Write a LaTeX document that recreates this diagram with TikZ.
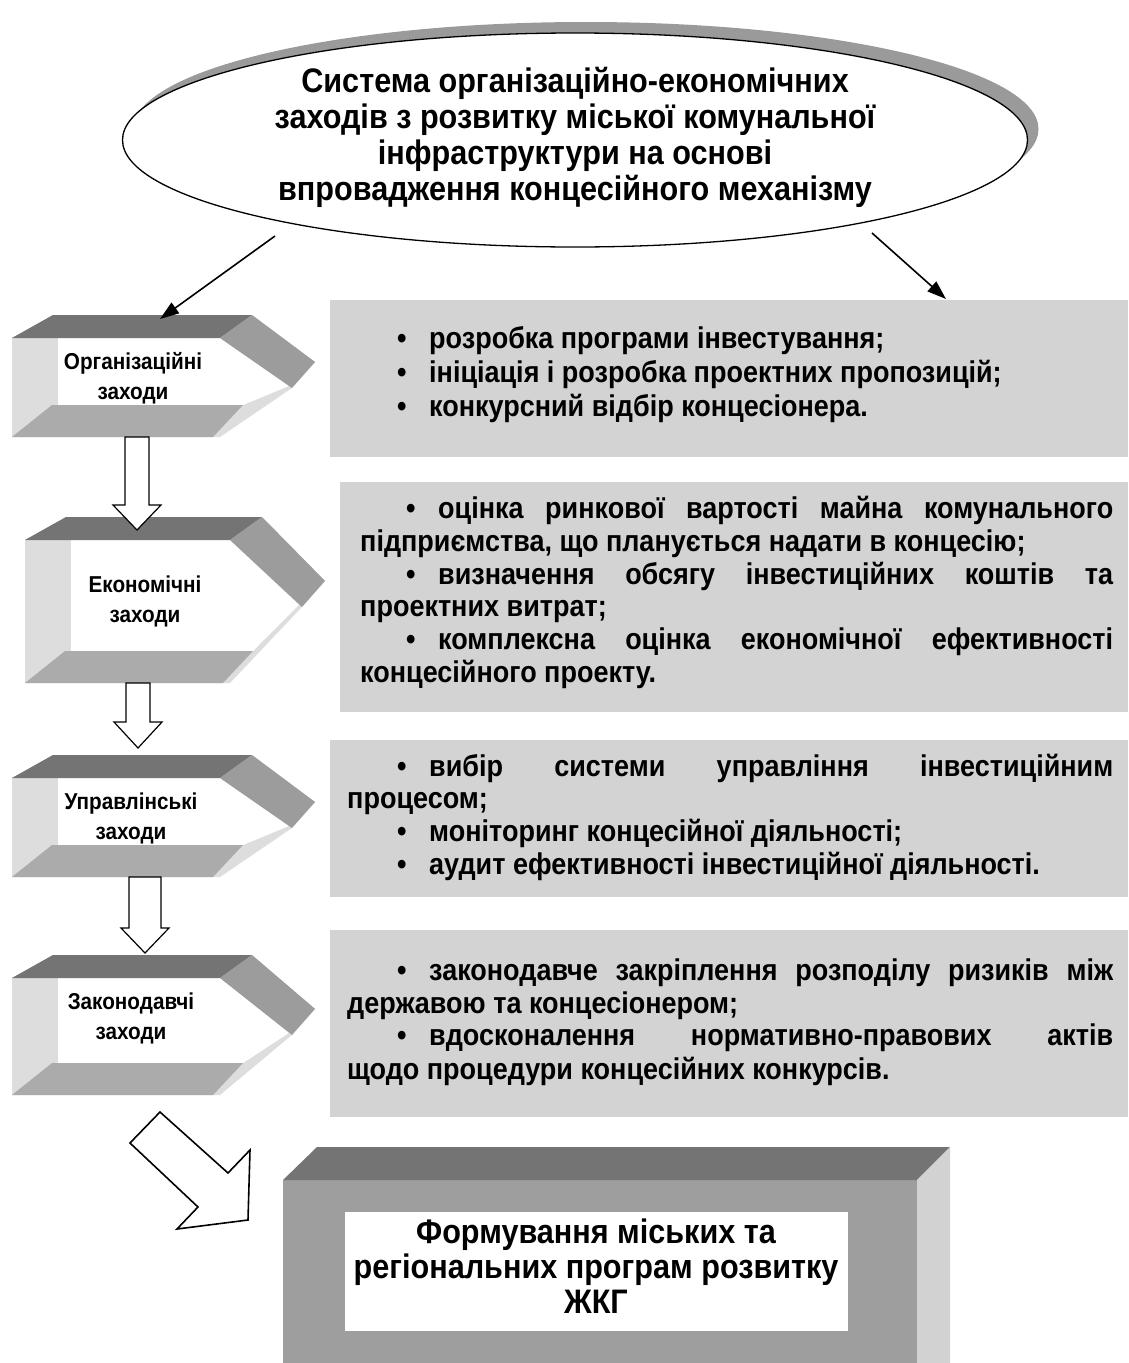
\documentclass[tikz,border=0pt]{standalone}
\usepackage{fontspec}
\setmainfont{Liberation Sans}
\newfontfamily\nar[FakeStretch=0.9]{Liberation Sans}
\usetikzlibrary{arrows.meta,shapes.geometric}
\definecolor{bandD}{HTML}{747474}
\definecolor{bevelC}{HTML}{9C9C9C}
\definecolor{bandB}{HTML}{ABABAB}
\definecolor{faceL}{HTML}{DDDDDD}
\definecolor{panelC}{HTML}{D3D3D3}
\definecolor{frontC}{HTML}{9E9E9E}
\definecolor{sideC}{HTML}{D2D2D2}
\definecolor{shadowC}{HTML}{9A9A9A}
\newcommand\arrowbox[4]{% L T B W
  \pgfmathsetmacro\aL{#1}\pgfmathsetmacro\aT{#2}\pgfmathsetmacro\aB{#3}\pgfmathsetmacro\aW{#4}
  \pgfmathsetmacro\aTB{\aT+23}\pgfmathsetmacro\aBB{\aB-32}
  \pgfmathsetmacro\aTY{\aT+0.385*(\aB-\aT)}
  \fill[faceL] (\aL,\aTB) -- ({\aL+41},\aT) -- ({\aW-63},\aT) -- (\aW,\aTY) -- ({\aW-23},{\aTY+26}) -- ({\aW-95},\aB) -- (\aL,\aB) -- cycle;
  \fill[white] ({\aL+46},\aTB) -- ({\aW-95},\aTB) -- ({\aW-26},{\aTY+24}) -- ({\aW-72},\aBB) -- ({\aL+46},\aBB) -- cycle;
  \fill[bandD] (\aL,\aTB) -- ({\aL+41},\aT) -- ({\aW-63},\aT) -- ({\aW-95},\aTB) -- cycle;
  \fill[bevelC] ({\aW-63},\aT) -- (\aW,\aTY) -- ({\aW-23},{\aTY+26}) -- ({\aW-95},\aTB) -- cycle;
  \fill[bandB] (\aL,\aB) -- ({\aL+40},\aBB) -- ({\aW-72},\aBB) -- ({\aW-102},\aB) -- cycle;
}
\newcommand\hollowdown[7]{% cx top headY tipY halfshaft halfhead name
  \draw[blockarrow] ({#1-#5},#2) -- ({#1-#5},#3) -- ({#1-#6},#3) -- (#1,#4) -- ({#1+#6},#3) -- ({#1+#5},#3) -- ({#1+#5},#2) -- cycle;
}
\newcommand\bul{\makebox[32pt][l]{•}}
\begin{document}
\begin{tikzpicture}[x=1pt,y=-1pt,
  bodytext/.style={font=\nar\bfseries\fontsize{30}{33}\selectfont, inner sep=0pt, anchor=base west},
  labeltext/.style={font=\nar\bfseries\fontsize{23}{30}\selectfont, align=center, inner sep=0pt},
  conn/.style={line width=1.6pt, -{Triangle[length=19pt,width=13pt]}},
  blockarrow/.style={draw=black, fill=white, line width=1.2pt, line join=miter},
  panel/.style={fill=panelC}]
\useasboundingbox (0,0) rectangle (1128,1363);
\fill[white] (0,0) rectangle (1128,1363);

% ellipse with shadow
\node[ellipse, fill=shadowC, minimum width=905pt, minimum height=214pt, inner sep=0pt] (ellsh) at (586,129) {};
\node[ellipse, draw=black, fill=white, line width=1.3pt, minimum width=905pt, minimum height=214pt, inner sep=0pt] (ell) at (575,140) {};
\node[font=\nar\bfseries\fontsize{34}{36}\selectfont, align=center, inner sep=0pt] (etext) at (575,137)
  {Система організаційно-економічних\\заходів з розвитку міської комунальної\\інфраструктури на основі\\впровадження концесійного механізму};

% gray panels
\fill[panel] (330,300) rectangle (1128,457);
\fill[panel] (340,482) rectangle (1128,712);
\fill[panel] (330,740) rectangle (1128,897);
\fill[panel] (330,930) rectangle (1128,1117);

% left arrow boxes
\arrowbox{12}{315}{437}{315}
\arrowbox{25}{517}{683}{325}
\arrowbox{12}{755}{877}{315}
\arrowbox{12}{955}{1095}{315}

\node[labeltext] (l1) at (133,378) {Організаційні\\заходи};
\node[labeltext] (l2) at (145,601) {Економічні\\заходи};
\node[labeltext] (l3) at (131,818) {Управлінські\\заходи};
\node[labeltext] (l4) at (131,1018) {Законодавчі\\заходи};

% block arrows between boxes
\hollowdown{137}{437}{505}{530}{12}{24}{d1}
\hollowdown{138}{683}{722}{748}{12}{24}{d2}
\hollowdown{145}{877}{928}{953}{16}{24}{d3}

% connectors from ellipse
\coordinate (s1) at (275,236);
\coordinate (t1) at (160,319);
\coordinate (s2) at (872,233);
\coordinate (t2) at (946,299);
\draw[conn] (s1) -- (t1);
\draw[conn] (s2) -- (t2);

% panel texts
\node[bodytext] (p1a) at (397,348) {\bul розробка програми інвестування;};
\node[bodytext] (p1b) at (397,382) {\bul ініціація і розробка проектних пропозицій;};
\node[bodytext] (p1c) at (397,416) {\bul конкурсний відбір концесіонера.};

\node[bodytext] (p2a) at (406,518) {\hbox to 707pt{\bul оцінка ринкової вартості майна комунального}};
\node[bodytext] (p2b) at (360,551) {підприємства, що планується надати в концесію;};
\node[bodytext] (p2c) at (406,584) {\hbox to 707pt{\bul визначення обсягу інвестиційних коштів та}};
\node[bodytext] (p2d) at (360,616) {проектних витрат;};
\node[bodytext] (p2e) at (406,649) {\hbox to 707pt{\bul комплексна оцінка економічної ефективності}};
\node[bodytext] (p2f) at (360,682) {концесійного проекту.};

\node[bodytext] (p3a) at (397,776) {\hbox to 716pt{\bul вибір системи управління інвестиційним}};
\node[bodytext] (p3b) at (347,808) {процесом;};
\node[bodytext] (p3c) at (397,841) {\bul моніторинг концесійної діяльності;};
\node[bodytext] (p3d) at (397,874) {\bul аудит ефективності інвестиційної діяльності.};

\node[bodytext] (p4a) at (397,980) {\hbox to 716pt{\bul законодавче закріплення розподілу ризиків між}};
\node[bodytext] (p4b) at (347,1013) {державою та концесіонером;};
\node[bodytext] (p4c) at (397,1045) {\hbox to 716pt{\bul вдосконалення нормативно-правових актів}};
\node[bodytext] (p4d) at (347,1079) {щодо процедури концесійних конкурсів.};

% big diagonal arrow
\draw[blockarrow, line width=1.6pt] (160,1112) -- (228,1173) -- (250,1150) -- (248,1220) -- (177,1229) -- (198,1207) -- (130,1143) -- cycle;

% bottom box
\fill[frontC] (283,1180) rectangle (917,1363);
\fill[bandD] (283,1180) -- (317,1147) -- (950,1147) -- (917,1180) -- cycle;
\fill[sideC] (917,1180) -- (950,1147) -- (950,1363) -- (917,1363) -- cycle;
\fill[white] (345,1212) rectangle (848,1331);
\node[font=\nar\bfseries\fontsize{34}{35}\selectfont, align=center, inner sep=0pt] (final) at (596,1266)
  {Формування міських та\\регіональних програм розвитку\\ЖКГ};
\end{tikzpicture}
\end{document}
